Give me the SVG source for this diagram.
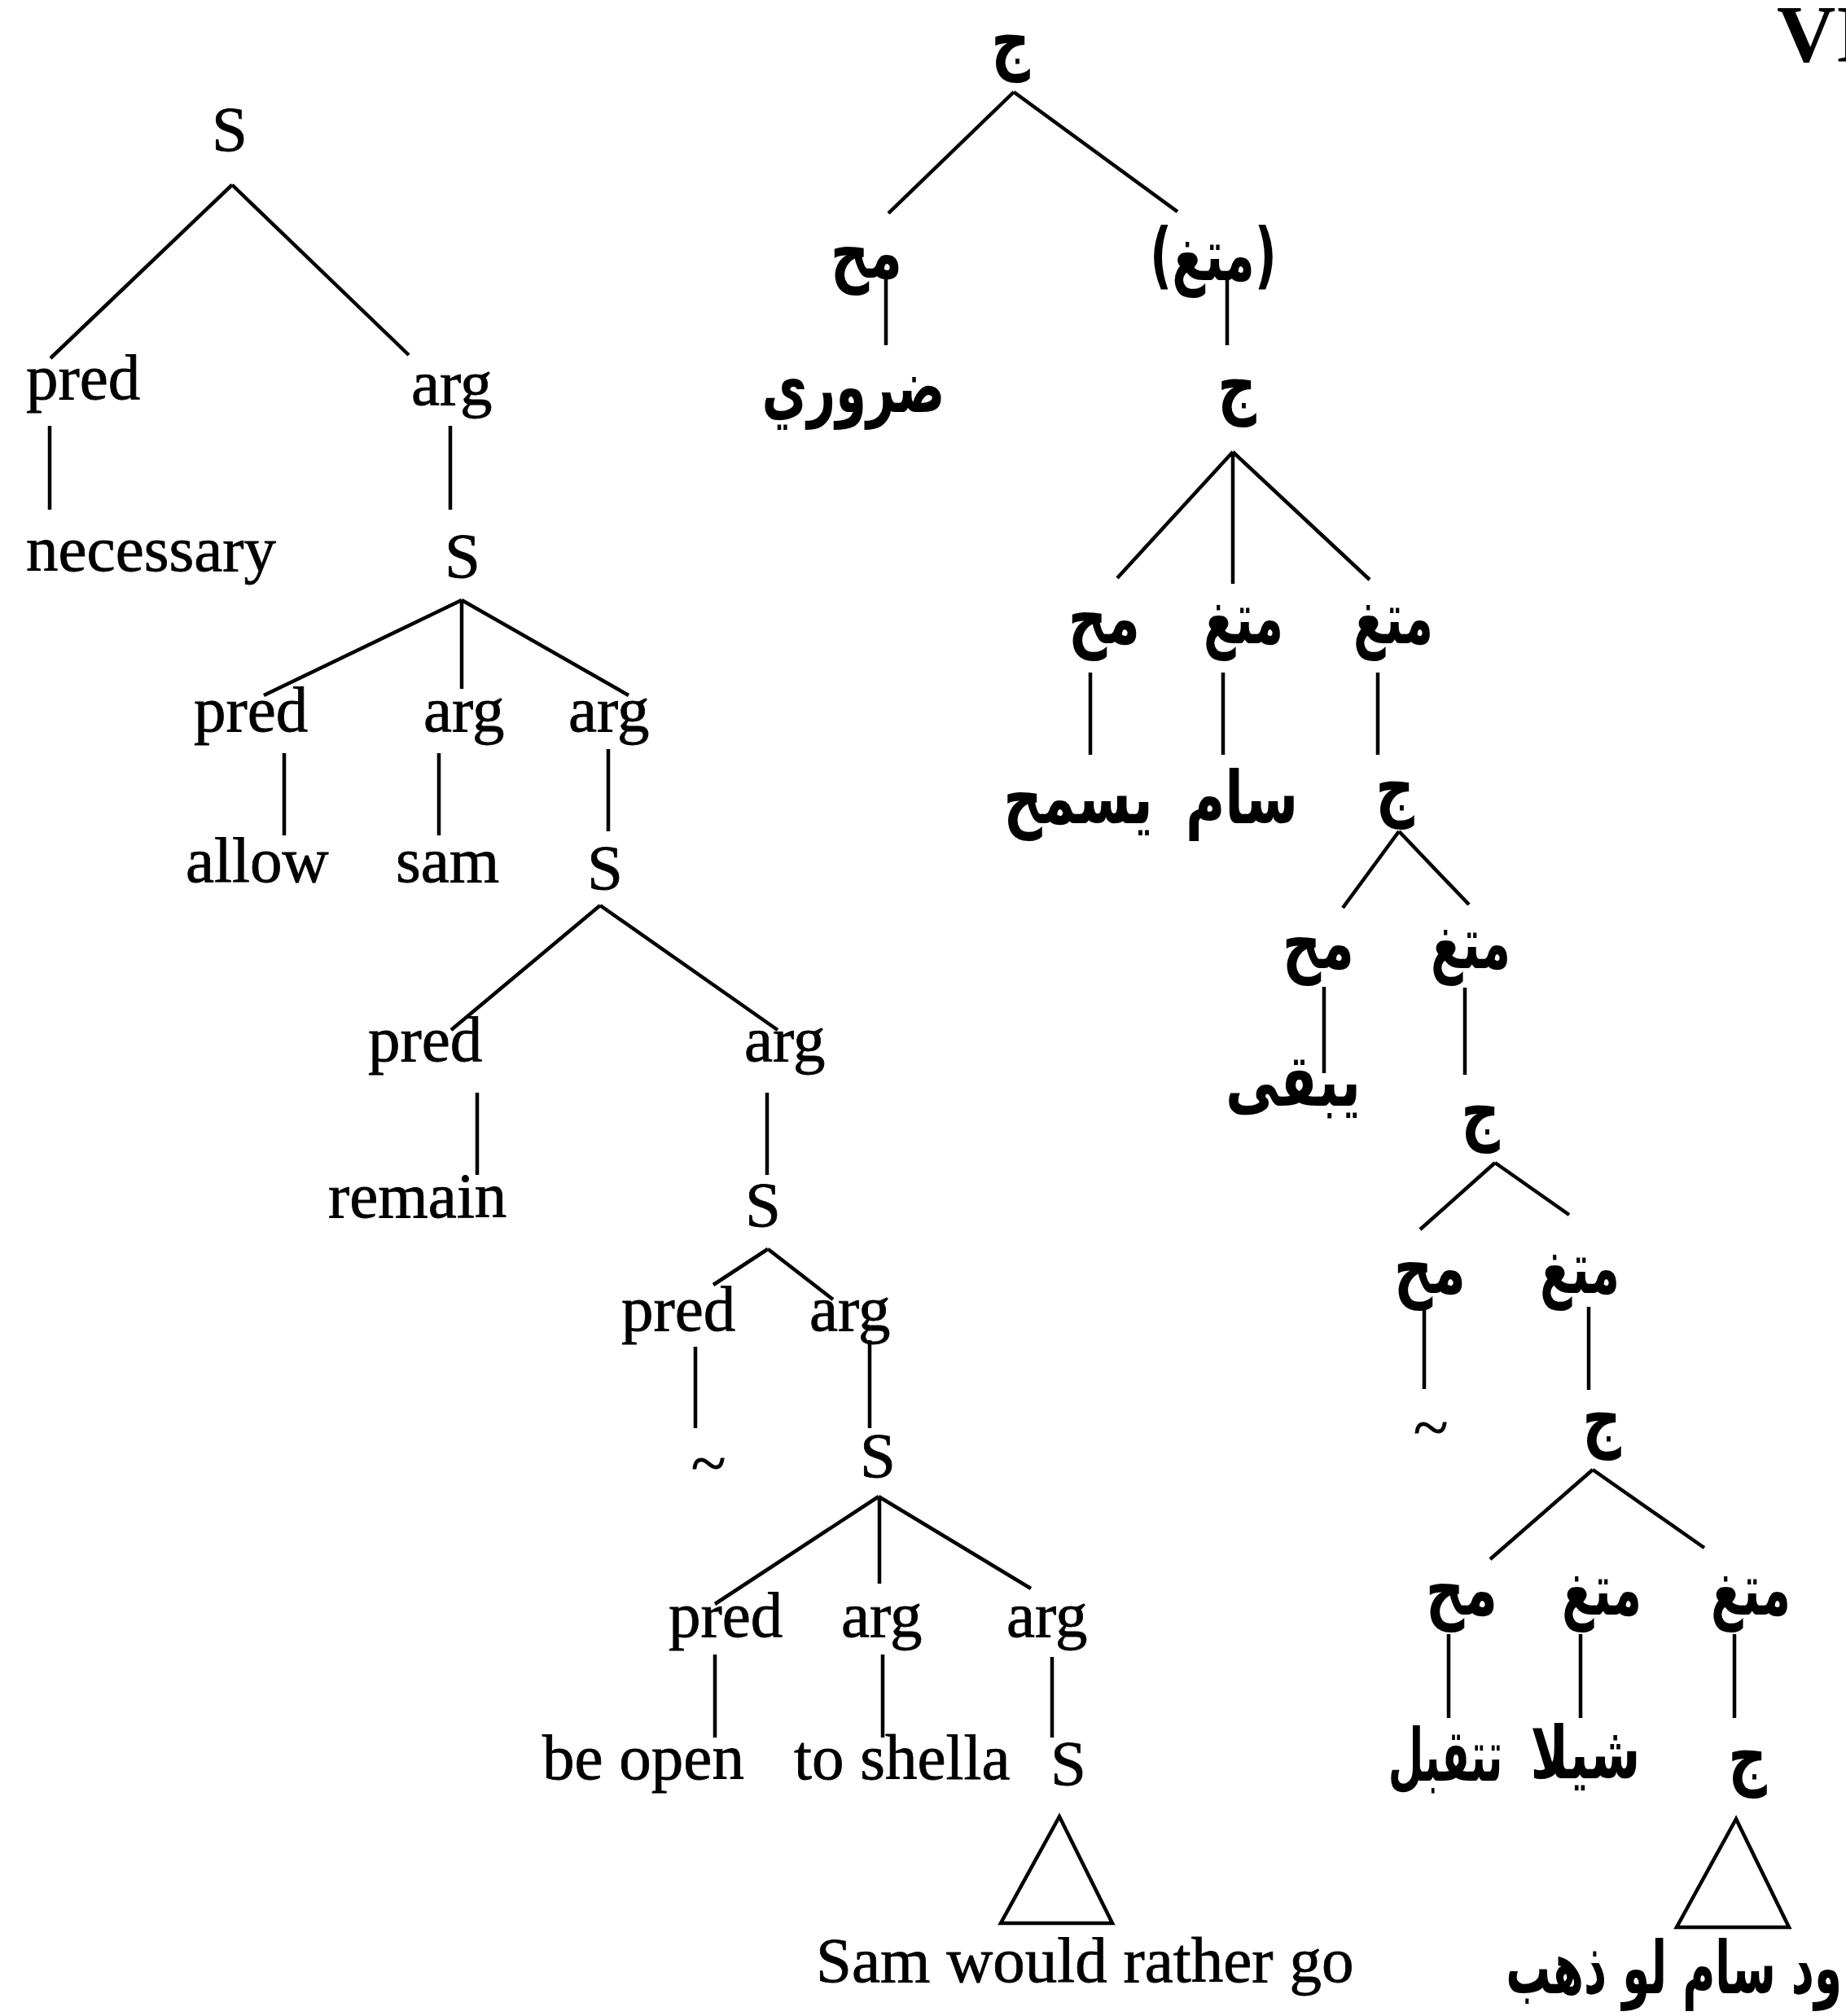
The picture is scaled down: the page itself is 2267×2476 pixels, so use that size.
<svg xmlns="http://www.w3.org/2000/svg" width="2267" height="2476" viewBox="0 0 2267 2476">
<style>
.en{font-family:"Liberation Serif","Times New Roman",serif;font-size:79px;fill:#000;stroke:#000;stroke-width:0.8}
.ar{font-family:"DejaVu Sans","Noto Sans",sans-serif;font-size:66px;font-weight:bold;fill:#000}
.c{text-anchor:middle}
.e{text-anchor:end}
.ln{stroke:#000;stroke-width:4.5;fill:none;stroke-linecap:butt}
.hd{font-family:"Liberation Serif","Times New Roman",serif;font-size:100px;font-weight:bold;fill:#000}
</style>
<rect width="2267" height="2476" fill="#fff"/>
<text class="hd" x="2182" y="75">VI</text>
<g id="connectors">
<path class="ln" d="M285,227L62,440M285,227L502,436M61,523V626M553,523V626"/>
<path class="ln" d="M567,737L324,854M567,737V846M567,737L772,854M349,925V1026M539,925V1026M747,920V1021"/>
<path class="ln" d="M737,1112L554,1265M737,1112L955,1265M586,1342V1443M942,1342V1443"/>
<path class="ln" d="M943,1534L876,1578M943,1534L1023,1596M854,1654V1754M1068,1646V1754"/>
<path class="ln" d="M1079,1838L878,1970M1080,1838V1945M1079,1838L1266,1951M878,2032V2134M1084,2032V2134M1292,2035V2134"/>
<path class="ln" d="M1301,2231L1229,2362H1366Z"/>
<path class="ln" d="M1245,113L1091,262M1245,113L1446,260M1088,337V424M1507,337V424"/>
<path class="ln" d="M1514,555L1372,710M1514,555V717M1514,555L1682,712M1339,826V927M1502,826V927M1692,826V927"/>
<path class="ln" d="M1718,1021L1649,1115M1718,1021L1804,1111M1626,1212V1318M1799,1213V1320"/>
<path class="ln" d="M1836,1428L1744,1510M1836,1428L1927,1492M1749,1602V1706M1951,1605V1707"/>
<path class="ln" d="M1956,1805L1830,1915M1956,1805L2093,1901M1779,2007V2110M1941,2007V2110M2130,2007V2110"/>
<path class="ln" d="M2132,2234L2059,2367H2197Z"/>
</g>
<g id="en-S1"><text class="en c" x="282" y="185">S</text></g>
<g id="en-pred1"><text class="en" x="32" y="490">pred</text></g>
<g id="en-arg1"><text class="en" x="505" y="497">arg</text></g>
<g id="en-necessary"><text class="en" x="32" y="701">necessary</text></g>
<g id="en-S2"><text class="en c" x="568" y="709">S</text></g>
<g id="en-pred2"><text class="en" x="238" y="898">pred</text></g>
<g id="en-arg2"><text class="en" x="520" y="898">arg</text></g>
<g id="en-arg3"><text class="en" x="698" y="898">arg</text></g>
<g id="en-allow"><text class="en" x="228" y="1083">allow</text></g>
<g id="en-sam"><text class="en" x="486" y="1083">sam</text></g>
<g id="en-S3"><text class="en c" x="743" y="1092">S</text></g>
<g id="en-pred3"><text class="en" x="452" y="1303">pred</text></g>
<g id="en-arg4"><text class="en" x="914" y="1303">arg</text></g>
<g id="en-remain"><text class="en" x="403" y="1495">remain</text></g>
<g id="en-S4"><text class="en c" x="937" y="1506">S</text></g>
<g id="en-pred4"><text class="en" x="763" y="1634">pred</text></g>
<g id="en-arg5"><text class="en" x="994" y="1634">arg</text></g>
<g id="en-tilde"><text class="en c" x="870" y="1823">~</text></g>
<g id="en-S5"><text class="en c" x="1078" y="1814">S</text></g>
<g id="en-pred5"><text class="en" x="821" y="2010">pred</text></g>
<g id="en-arg6"><text class="en" x="1033" y="2010">arg</text></g>
<g id="en-arg7"><text class="en" x="1236" y="2010">arg</text></g>
<g id="en-beopen"><text class="en" x="666" y="2185">be open</text></g>
<g id="en-toshella"><text class="en" x="975" y="2185">to shella</text></g>
<g id="en-S6"><text class="en c" x="1312" y="2192">S</text></g>
<g id="en-sam-would"><text class="en" x="1002" y="2434">Sam would rather go</text></g>
<g id="ar-j1"><text class="ar c" transform="translate(1241,80) scale(1,1.35)">ج</text></g>
<g id="ar-mh1"><text class="ar c" transform="translate(1064,341) scale(1,1.35)">مح</text></g>
<g id="ar-mtg1"><text class="ar c" transform="translate(1490,344) scale(0.9,1.35)">(متغ)</text></g>
<g id="ar-daruri"><text class="ar c" transform="translate(1048,506) scale(0.92,1.35)">ضروري</text></g>
<g id="ar-j2"><text class="ar c" transform="translate(1519,503) scale(1,1.35)">ج</text></g>
<g id="ar-mh2"><text class="ar c" transform="translate(1356,790) scale(1,1.35)">مح</text></g>
<g id="ar-mtg2"><text class="ar c" transform="translate(1527,790) scale(0.87,1.35)">متغ</text></g>
<g id="ar-mtg3"><text class="ar c" transform="translate(1711,790) scale(0.87,1.35)">متغ</text></g>
<g id="ar-yasmah"><text class="ar c" transform="translate(1324,1011) scale(1,1.35)">يسمح</text></g>
<g id="ar-sam"><text class="ar c" transform="translate(1525,1011) scale(1,1.35)">سام</text></g>
<g id="ar-j3"><text class="ar c" transform="translate(1713,997) scale(1,1.35)">ج</text></g>
<g id="ar-mh3"><text class="ar c" transform="translate(1619,1189) scale(1,1.35)">مح</text></g>
<g id="ar-mtg4"><text class="ar c" transform="translate(1806,1189) scale(0.87,1.35)">متغ</text></g>
<g id="ar-yabqa"><text class="ar c" transform="translate(1588,1358) scale(1,1.35)">يبقى</text></g>
<g id="ar-j4"><text class="ar c" transform="translate(1818,1395) scale(1,1.35)">ج</text></g>
<g id="ar-mh4"><text class="ar c" transform="translate(1756,1588) scale(1,1.35)">مح</text></g>
<g id="ar-mtg5"><text class="ar c" transform="translate(1940,1588) scale(0.87,1.35)">متغ</text></g>
<g id="ar-tilde"><text class="en c" x="1757" y="1779">~</text></g>
<g id="ar-j5"><text class="ar c" transform="translate(1967,1772) scale(1,1.35)">ج</text></g>
<g id="ar-mh5"><text class="ar c" transform="translate(1795,1983) scale(1,1.35)">مح</text></g>
<g id="ar-mtg6"><text class="ar c" transform="translate(1967,1983) scale(0.87,1.35)">متغ</text></g>
<g id="ar-mtg7"><text class="ar c" transform="translate(2150,1983) scale(0.87,1.35)">متغ</text></g>
<g id="ar-tataqabbal"><text class="ar c" transform="translate(1775,2187) scale(0.76,1.35)">تتقبل</text></g>
<g id="ar-shila"><text class="ar c" transform="translate(1947,2184) scale(0.95,1.35)">شيلا</text></g>
<g id="ar-j6"><text class="ar c" transform="translate(2146,2187) scale(1,1.35)">ج</text></g>
<g id="ar-wad"><text class="ar e" transform="translate(2262,2448) scale(0.83,1.35)">ود سام لو ذهب</text></g>
</svg>
